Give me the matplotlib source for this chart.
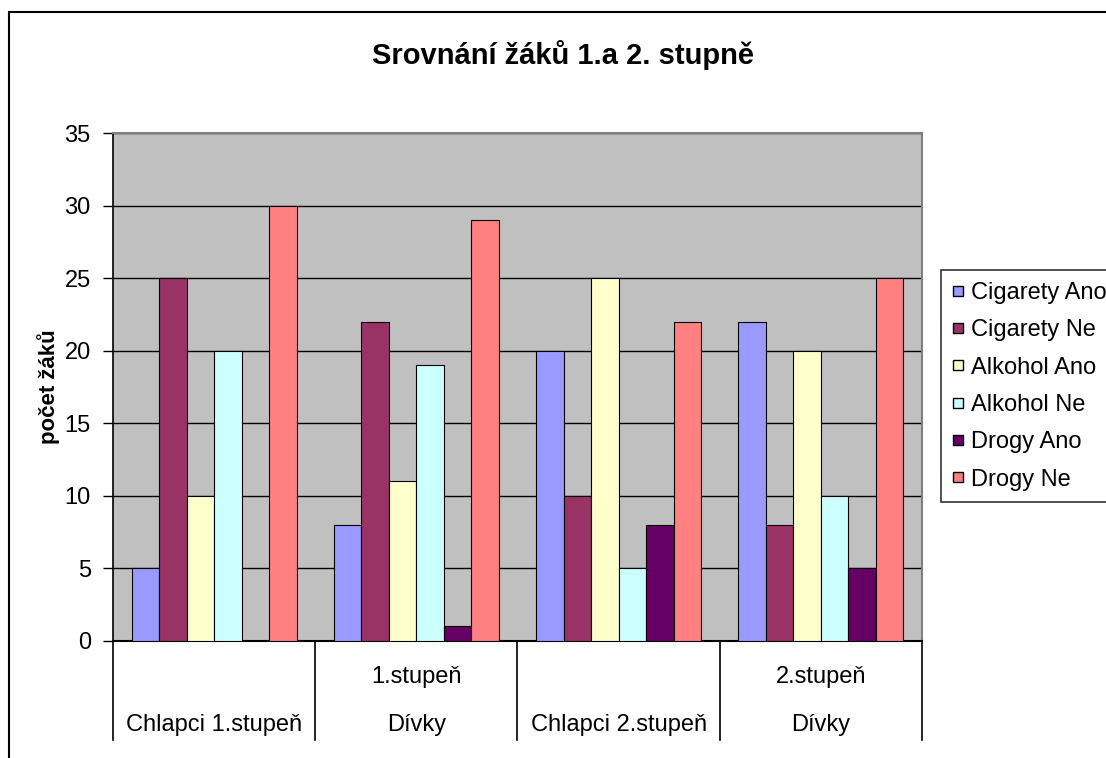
import matplotlib
matplotlib.use('Agg')
import matplotlib.pyplot as plt
from matplotlib.patches import Rectangle
from matplotlib.lines import Line2D
import numpy as np

plt.rcParams['font.family'] = ['Liberation Sans', 'DejaVu Sans']

# data
groups_top = ['', '1.stupeň', '', '2.stupeň']
groups_bottom = ['Chlapci 1.stupeň', 'Dívky', 'Chlapci 2.stupeň', 'Dívky']
series_names = ['Cigarety Ano', 'Cigarety Ne', 'Alkohol Ano', 'Alkohol Ne',
                'Drogy Ano', 'Drogy Ne']
cigarety_ano = [5, 8, 20, 22]
cigarety_ne = [25, 22, 10, 8]
alkohol_ano = [10, 11, 25, 20]
alkohol_ne = [20, 19, 5, 10]
drogy_ano = [0, 1, 8, 5]
drogy_ne = [30, 29, 22, 25]
colors = ['#9999FF', '#993366', '#FFFFCC', '#CCFFFF', '#660066', '#FF8080']

series = [cigarety_ano, cigarety_ne, alkohol_ano, alkohol_ne, drogy_ano, drogy_ne]

fig = plt.figure(figsize=(11.06, 7.58), dpi=100)
ax = fig.add_axes([0.1022, 0.1544, 0.7314, 0.6701])

# outer chart border
fig.patches.append(Rectangle((9 / 1106, -0.1), 1.2, 1 - 12 / 758 + 0.1,
                             transform=fig.transFigure, fill=False,
                             edgecolor='black', linewidth=1.5))

x = np.arange(len(groups_bottom))
width = 0.136
for i, (vals, name, col) in enumerate(zip(series, series_names, colors)):
    ax.bar(x + (i - 2.5) * width, vals, width, color=col, edgecolor='black',
           linewidth=0.8, label=name, zorder=3)

ax.set_facecolor('#C0C0C0')
ax.set_xlim(-0.5, 3.5)
ax.set_ylim(0, 35)
ax.set_yticks(range(0, 36, 5))
ax.yaxis.grid(True, color='black', linewidth=1, zorder=1)
ax.tick_params(axis='y', labelsize=17, length=7, width=1, pad=9)
ax.set_xticks([])
for s in ['top', 'right']:
    ax.spines[s].set_color('#808080')
    ax.spines[s].set_linewidth(1.5)
ax.spines['left'].set_linewidth(1.2)
ax.spines['bottom'].set_linewidth(1.5)

# two-row category labels with separators
for xi, t in zip(x, groups_top):
    ax.text(xi, -0.071, t, transform=ax.get_xaxis_transform(),
            ha='center', va='center', fontsize=17)
for xi, b in zip(x, groups_bottom):
    ax.text(xi, -0.165, b, transform=ax.get_xaxis_transform(),
            ha='center', va='center', fontsize=17)
for sx in np.arange(-0.5, 4, 1):
    ax.plot([sx, sx], [0, -0.195], transform=ax.get_xaxis_transform(),
            color='black', linewidth=1.2, clip_on=False)

ax.set_ylabel('počet žáků', fontsize=16, fontweight='bold', labelpad=3)

fig.text(0.509, 0.927, 'Srovnání žáků 1.a 2. stupně', ha='center',
         va='center', fontsize=21, fontweight='bold')

# square legend keys like the original
handles = [Line2D([], [], linestyle='none', marker='s', markersize=7.5,
                  markerfacecolor=c, markeredgecolor='black',
                  markeredgewidth=1) for c in colors]
leg = fig.legend(handles, series_names, loc='upper left',
                 bbox_to_anchor=(941 / 1106, 1 - 270 / 758),
                 fontsize=17, frameon=True, fancybox=False, edgecolor='black',
                 handlelength=0.45, handletextpad=0.3,
                 labelspacing=0.65, borderaxespad=0, borderpad=0.5)
leg.get_frame().set_linewidth(1.2)

fig.savefig('out.png', dpi=100)
